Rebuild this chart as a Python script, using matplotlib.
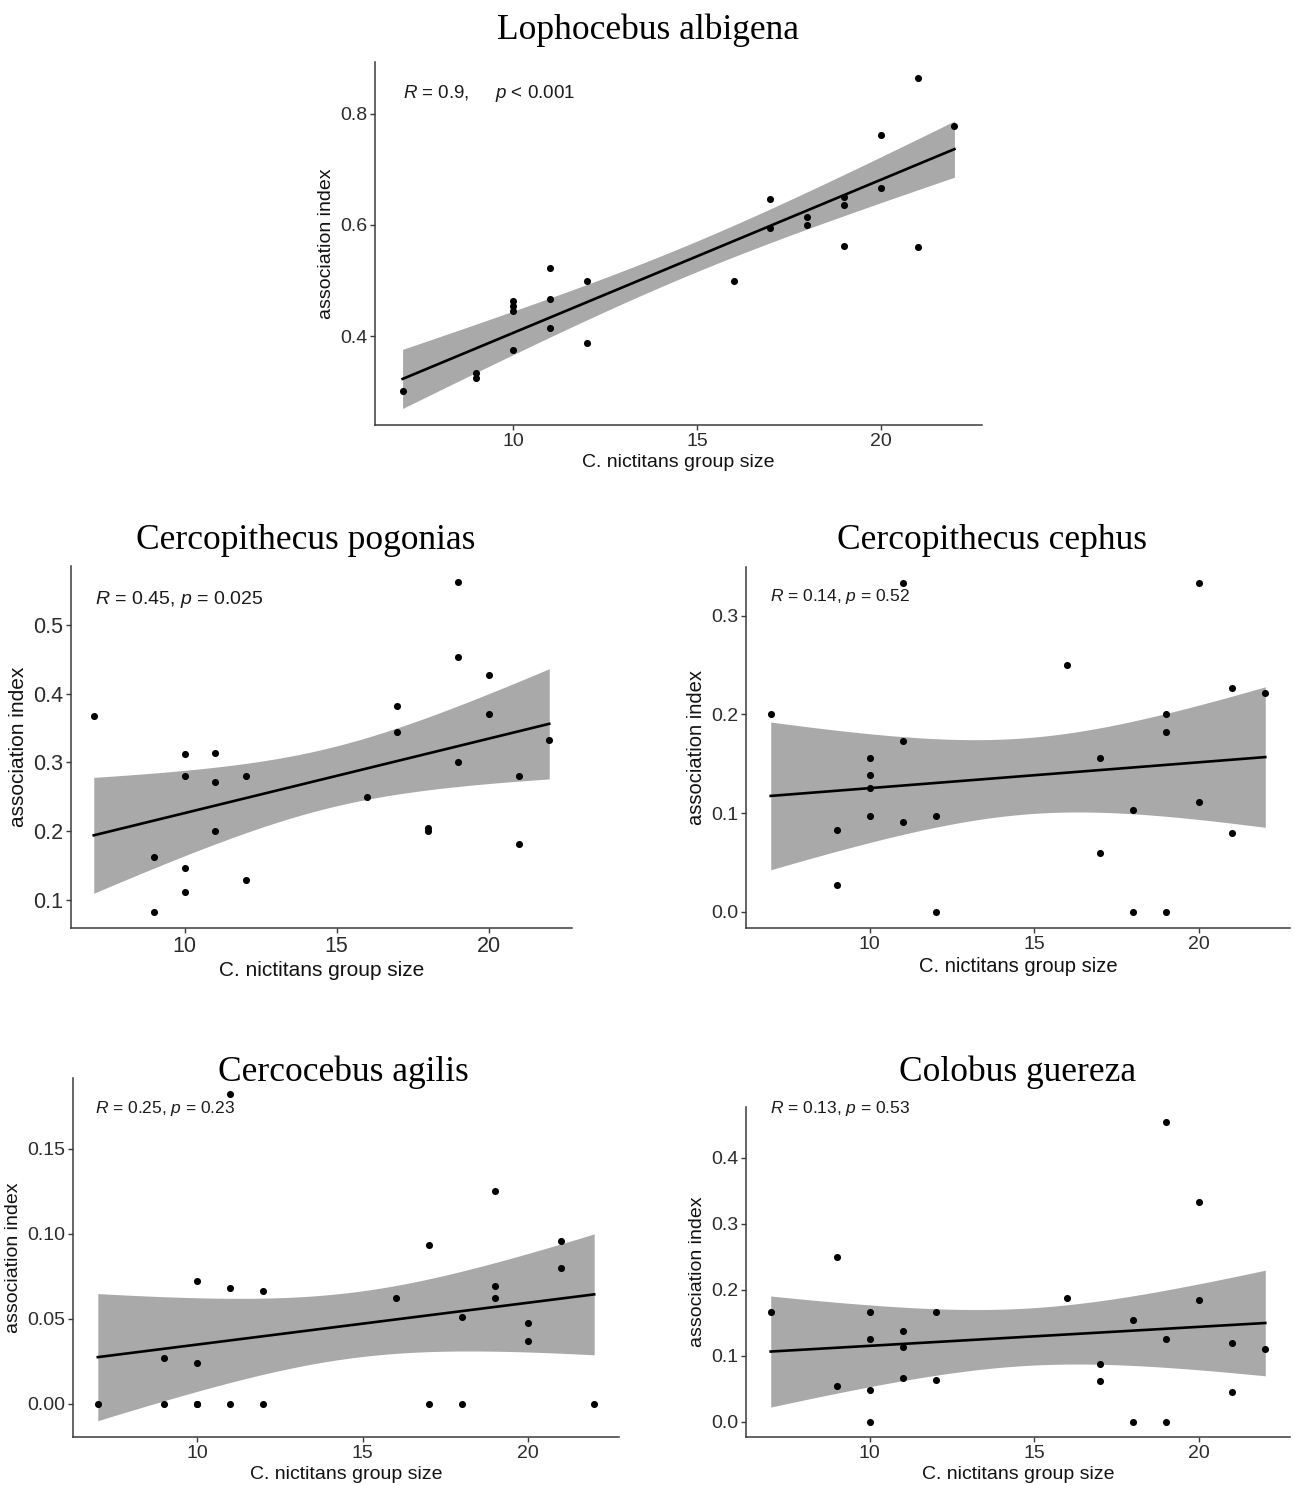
import numpy as np
import matplotlib
matplotlib.use("Agg")
import matplotlib.pyplot as plt

plt.rcParams["font.family"] = ["Liberation Sans", "DejaVu Sans"]
plt.rcParams["mathtext.fontset"] = "custom"
plt.rcParams["mathtext.rm"] = "Liberation Sans"
plt.rcParams["mathtext.it"] = "Liberation Sans:italic"

# ---------------- data ----------------
titles = ["Lophocebus albigena", "Cercopithecus pogonias", "Cercopithecus cephus",
          "Cercocebus agilis", "Colobus guereza"]
stat_labels = ["$R$ = 0.9,     $p$ < 0.001", "$R$ = 0.45, $p$ = 0.025",
               "$R$ = 0.14, $p$ = 0.52", "$R$ = 0.25, $p$ = 0.23",
               "$R$ = 0.13, $p$ = 0.53"]
x_label = "C. nictitans group size"
y_label = "association index"
x_ticks = [10, 15, 20]

lopho_x = [7, 9, 9, 10, 10, 10, 10, 11, 11, 11, 12, 12, 16, 17, 17, 18, 18, 19, 19, 19, 20, 20, 21, 21, 22]
lopho_y = [0.301, 0.334, 0.325, 0.463, 0.454, 0.445, 0.375, 0.523, 0.467, 0.414, 0.500, 0.387, 0.500,
           0.647, 0.594, 0.615, 0.600, 0.650, 0.636, 0.563, 0.762, 0.667, 0.863, 0.560, 0.777]

pogo_x = [7, 9, 9, 10, 10, 10, 10, 11, 11, 11, 12, 12, 16, 17, 17, 18, 18, 19, 19, 19, 20, 20, 21, 21, 22]
pogo_y = [0.367, 0.162, 0.083, 0.313, 0.281, 0.146, 0.111, 0.314, 0.272, 0.200, 0.280, 0.129, 0.249,
          0.382, 0.344, 0.205, 0.200, 0.562, 0.454, 0.300, 0.428, 0.371, 0.280, 0.182, 0.333]

ceph_x = [7, 9, 9, 10, 10, 10, 10, 11, 11, 11, 12, 12, 16, 17, 17, 18, 18, 19, 19, 19, 20, 20, 21, 21, 22]
ceph_y = [0.200, 0.083, 0.027, 0.156, 0.139, 0.125, 0.097, 0.333, 0.173, 0.091, 0.097, 0.000, 0.250,
          0.156, 0.059, 0.103, 0.000, 0.200, 0.182, 0.000, 0.333, 0.111, 0.227, 0.080, 0.222]

agil_x = [7, 9, 9, 10, 10, 10, 10, 11, 11, 11, 12, 12, 16, 17, 17, 18, 18, 19, 19, 19, 20, 20, 21, 21, 22]
agil_y = [0.000, 0.027, 0.000, 0.072, 0.024, 0.000, 0.000, 0.182, 0.068, 0.000, 0.0665, 0.000, 0.0624,
          0.0936, 0.000, 0.0511, 0.000, 0.125, 0.069, 0.0624, 0.0476, 0.0369, 0.096, 0.080, 0.000]

colo_x = [7, 9, 9, 10, 10, 10, 10, 11, 11, 11, 12, 12, 16, 17, 17, 18, 18, 19, 19, 19, 20, 20, 21, 21, 22]
colo_y = [0.1667, 0.250, 0.054, 0.1667, 0.125, 0.0486, 0.000, 0.138, 0.113, 0.0668, 0.1667, 0.0643, 0.187,
          0.088, 0.0623, 0.154, 0.000, 0.454, 0.125, 0.000, 0.333, 0.185, 0.120, 0.045, 0.111]

y_ticks = [[0.4, 0.6, 0.8], [0.1, 0.2, 0.3, 0.4, 0.5], [0.0, 0.1, 0.2, 0.3],
           [0.00, 0.05, 0.10, 0.15], [0.0, 0.1, 0.2, 0.3, 0.4]]
y_tick_fmt = ["{:.1f}", "{:.1f}", "{:.1f}", "{:.2f}", "{:.1f}"]

# ---------------- layout (pixels) ----------------
W, H = 1294, 1485
DPI = 100
# left, right, top, bottom
boxes = [(375, 982, 62, 425), (71, 572, 566, 928), (746, 1290, 567, 928),
         (73, 619, 1078, 1437), (746, 1290, 1107, 1437)]
title_pos = [(648, 39), (306, 549), (992, 549), (343, 1081), (1018, 1081)]
stat_pos = [(403, 94), (95, 599), (770, 597), (95, 1108), (770, 1108)]
tick_fs = [14, 15.5, 14, 14, 14]
lab_fs = [14, 15, 14.5, 14, 14]
stat_fs = [13.5, 14, 12.5, 12.5, 12.5]


def t_quantile(df, z=1.959964):
    return (z + (z**3 + z) / (4 * df) + (5 * z**5 + 16 * z**3 + 3 * z) / (96 * df**2)
            + (3 * z**7 + 19 * z**5 + 17 * z**3 - 15 * z) / (384 * df**3))


def fit_band(x, y):
    x = np.asarray(x, float)
    y = np.asarray(y, float)
    n = len(x)
    b, a = np.polyfit(x, y, 1)
    xs = np.linspace(x.min(), x.max(), 80)
    resid = y - (a + b * x)
    s = np.sqrt(np.sum(resid**2) / (n - 2))
    sxx = np.sum((x - x.mean())**2)
    se = s * np.sqrt(1.0 / n + (xs - x.mean())**2 / sxx)
    t = t_quantile(n - 2)
    fit = a + b * xs
    return xs, fit, fit - t * se, fit + t * se


fig = plt.figure(figsize=(W / DPI, H / DPI), dpi=DPI)
fig.patch.set_facecolor("white")

series = [(lopho_x, lopho_y), (pogo_x, pogo_y), (ceph_x, ceph_y), (agil_x, agil_y), (colo_x, colo_y)]

for i, (xv, yv) in enumerate(series):
    l, r, t, b = boxes[i]
    ax = fig.add_axes([l / W, 1 - b / H, (r - l) / W, (b - t) / H])
    xs, fit, lo, hi = fit_band(xv, yv)
    ax.fill_between(xs, lo, hi, color="#A9A9A9", linewidth=0, zorder=1)
    ax.plot(xs, fit, color="black", linewidth=1.9, zorder=2)
    ax.scatter(xv, yv, s=26, color="black", linewidths=0, zorder=3)

    xmin, xmax = min(xv), max(xv)
    xr = xmax - xmin
    ax.set_xlim(xmin - 0.05 * xr, xmax + 0.05 * xr)
    ymin = min(min(yv), lo.min())
    ymax = max(max(yv), hi.max())
    yr = ymax - ymin
    ax.set_ylim(ymin - 0.05 * yr, ymax + 0.05 * yr)

    ax.set_xticks(x_ticks)
    ax.set_xticklabels([str(v) for v in x_ticks])
    ax.set_yticks(y_ticks[i])
    ax.set_yticklabels([y_tick_fmt[i].format(v) for v in y_ticks[i]])

    for sp in ["top", "right"]:
        ax.spines[sp].set_visible(False)
    for sp in ["left", "bottom"]:
        ax.spines[sp].set_color("#3a3a3a")
        ax.spines[sp].set_linewidth(1.1)
    ax.tick_params(axis="both", length=3.5, width=1.0, color="#3a3a3a",
                   labelsize=tick_fs[i], labelcolor="#2b2b2b", pad=2)
    ax.set_xlabel(x_label, fontsize=lab_fs[i], color="#111111", labelpad=3)
    ax.set_ylabel(y_label, fontsize=lab_fs[i], color="#111111", labelpad=4)

    tx, ty = title_pos[i]
    fig.text(tx / W, 1 - ty / H, titles[i], ha="center", va="baseline",
             fontsize=25.5, family=["Liberation Serif", "DejaVu Serif"], color="black")
    sx, sy = stat_pos[i]
    fig.text(sx / W, 1 - sy / H, stat_labels[i], ha="left", va="center",
             fontsize=stat_fs[i], color="#1a1a1a")

fig.savefig("out.png", dpi=DPI, facecolor="white")
